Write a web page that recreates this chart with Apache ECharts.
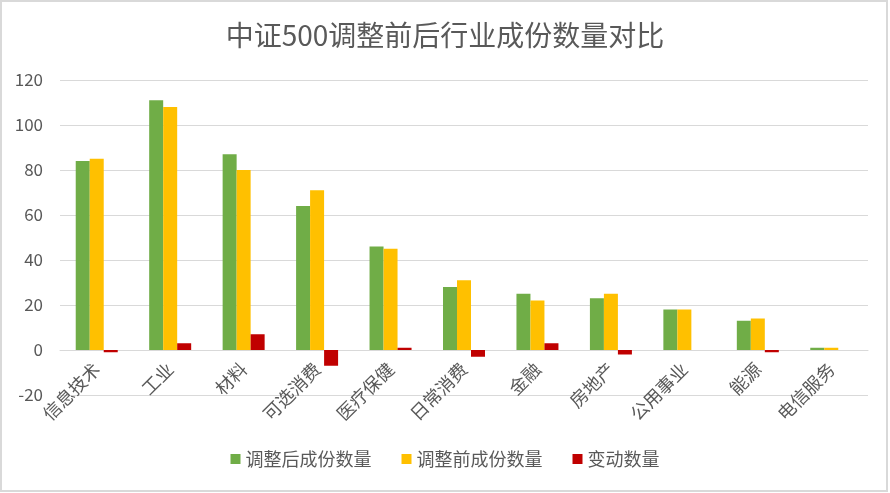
<!DOCTYPE html>
<html>
<head>
<meta charset="utf-8">
<script src="https://cdn.jsdelivr.net/npm/echarts@6/dist/echarts.min.js"></script>
<style>
html,body{margin:0;padding:0;background:#fff;}
#chart{width:890px;height:493px;}
</style>
</head>
<body>
<div id="chart"></div>
<script>
const categories = ['信息技术','工业','材料','可选消费','医疗保健','日常消费','金融','房地产','公用事业','能源','电信服务'];
const afterCounts = [84,111,87,64,46,28,25,23,18,13,1];
const beforeCounts = [85,108,80,71,45,31,22,25,18,14,1];
const changeCounts = [-1,3,7,-7,1,-3,3,-2,0,-1,0];
const seriesNames = ['调整后成份数量','调整前成份数量','变动数量'];

const font = "'Noto Sans CJK SC', 'Microsoft YaHei', sans-serif";
const chart = echarts.init(document.getElementById('chart'));
chart.setOption({
  backgroundColor: '#fff',
  textStyle: {fontFamily: font},
  title: {
    text: '中证500调整前后行业成份数量对比',
    left: 'center', top: 16,
    textStyle: {fontFamily: font, fontSize: 28, fontWeight: 'normal', color: '#595959'}
  },
  graphic: [{
    type: 'rect', silent: true,
    shape: {x: 1, y: 1, width: 886, height: 490},
    style: {fill: 'none', stroke: '#D9D9D9', lineWidth: 2}
  }],
  legend: {
    bottom: 20, left: 'center',
    itemWidth: 10, itemHeight: 10, itemGap: 30,
    icon: 'rect',
    textStyle: {fontFamily: font, fontSize: 18, color: '#595959'},
    data: seriesNames
  },
  grid: {left: 60, right: 22, top: 80, bottom: 98, containLabel: false},
  xAxis: {
    type: 'category',
    data: categories,
    offset: -45,
    axisLine: {onZero: false, lineStyle: {color: '#D9D9D9', width: 1}},
    axisTick: {show: false},
    axisLabel: {rotate: 45, fontSize: 18, color: '#595959', fontFamily: font, margin: 16, interval: 0}
  },
  yAxis: {
    type: 'value', min: -20, max: 120, interval: 20,
    axisLine: {show: false}, axisTick: {show: false},
    splitLine: {lineStyle: {color: '#D9D9D9', width: 1}},
    axisLabel: {fontSize: 17, color: '#595959', fontFamily: font, margin: 17}
  },
  series: [
    {name: seriesNames[0], type: 'bar', data: afterCounts, barWidth: 14, barGap: '0%', itemStyle: {color: '#70AD47'}},
    {name: seriesNames[1], type: 'bar', data: beforeCounts, barWidth: 14, barGap: '0%', itemStyle: {color: '#FFC000'}},
    {name: seriesNames[2], type: 'bar', data: changeCounts, barWidth: 14, barGap: '0%', itemStyle: {color: '#C00000'}}
  ]
});
</script>
</body>
</html>
